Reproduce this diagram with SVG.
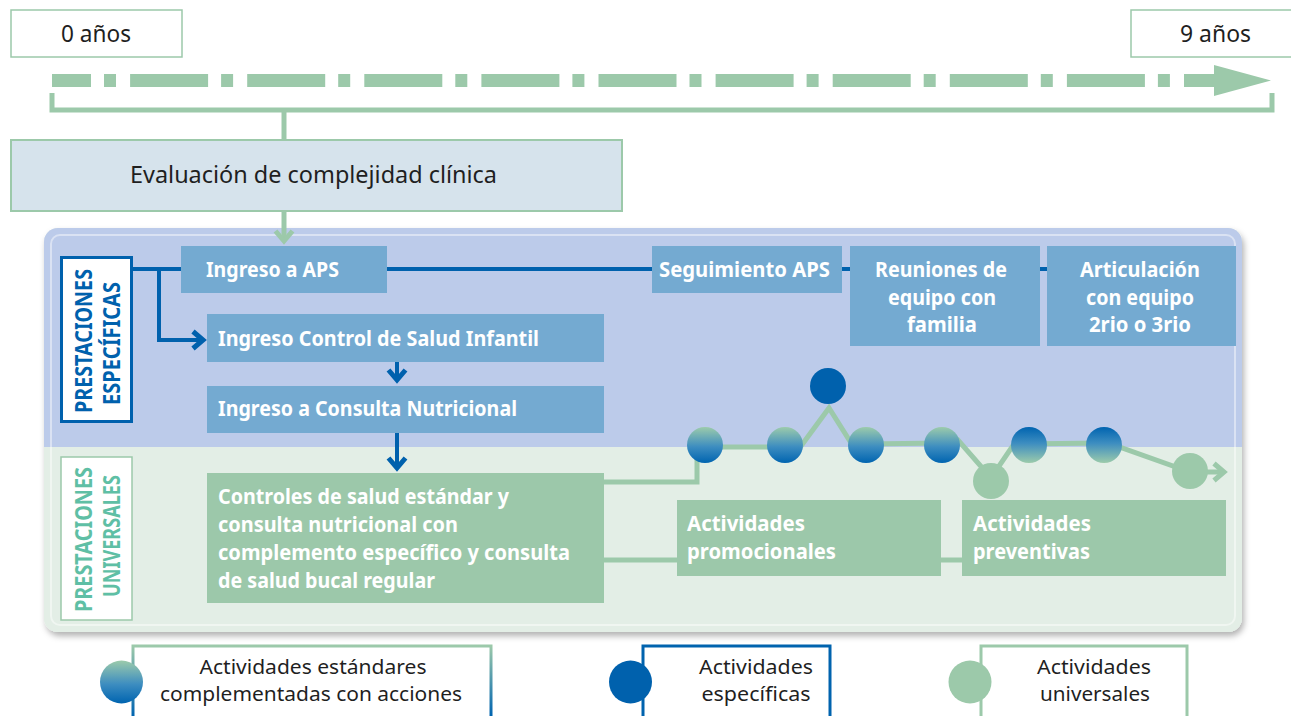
<svg xmlns="http://www.w3.org/2000/svg" width="1291" height="716" viewBox="0 0 1291 716">
<defs>
<style>
.t{font-family:"Noto Sans","Liberation Sans",sans-serif;fill:#1f1f1f;font-size:23px}
.lg{font-family:"Noto Sans","Liberation Sans",sans-serif;fill:#1f1f1f;font-size:19.5px;text-anchor:middle}
.b{font-family:"Noto Sans","Liberation Sans",sans-serif;font-weight:700;fill:#ffffff;font-size:22px}
.bc{font-family:"Noto Sans","Liberation Sans",sans-serif;font-weight:700;fill:#ffffff;font-size:22px;text-anchor:middle}
.v{font-family:"Noto Sans","Liberation Sans",sans-serif;font-weight:700;font-size:24px;text-anchor:middle}
.bluebox{fill:#74aad1}
.greenbox{fill:#9cc8aa}
.bl{stroke:#0061ad;stroke-width:4;fill:none}
.gl{stroke:#9cc9aa;fill:none;stroke-width:5}
</style>
<linearGradient id="gStd" x1="0" y1="0" x2="0" y2="1">
<stop offset="0" stop-color="#9ccbab"/><stop offset="0.55" stop-color="#3d8dc0"/><stop offset="1" stop-color="#0064b0"/>
</linearGradient>
<linearGradient id="gRev" x1="0" y1="0" x2="0" y2="1">
<stop offset="0" stop-color="#0064b0"/><stop offset="0.45" stop-color="#3d8dc0"/><stop offset="1" stop-color="#9ccbab"/>
</linearGradient>
<linearGradient id="gLeg" gradientUnits="userSpaceOnUse" x1="0" y1="646" x2="0" y2="716">
<stop offset="0" stop-color="#9cc9aa"/><stop offset="1" stop-color="#0064b0"/>
</linearGradient>
<marker id="chevB" markerUnits="userSpaceOnUse" markerWidth="24" markerHeight="24" viewBox="0 0 24 24" refX="16" refY="12" orient="auto">
<path d="M6,3.5 L16,12 L6,20.5" fill="none" stroke="#0061ad" stroke-width="5"/>
</marker>
<marker id="chevG" markerUnits="userSpaceOnUse" markerWidth="24" markerHeight="24" viewBox="0 0 24 24" refX="16" refY="12" orient="auto">
<path d="M6,3.5 L16,12 L6,20.5" fill="none" stroke="#9cc9aa" stroke-width="5"/>
</marker>
<filter id="sh" x="-3%" y="-5%" width="106%" height="112%">
<feDropShadow dx="2" dy="4" stdDeviation="3" flood-color="#000" flood-opacity="0.3"/>
</filter>
<clipPath id="pc"><rect x="44" y="228" width="1198" height="404" rx="14"/></clipPath>
</defs>

<rect width="1291" height="716" fill="#ffffff"/>

<g id="timeline">
<g id="start-label">
<rect x="11" y="10" width="171" height="47" fill="#fff" stroke="#9cc9aa" stroke-width="1.5"/>
<text class="t" x="61" y="42" textLength="70" lengthAdjust="spacingAndGlyphs">0 años</text>
</g>
<g id="end-label">
<rect x="1131" y="10" width="170" height="47" fill="#fff" stroke="#9cc9aa" stroke-width="1.5"/>
<text class="t" x="1180" y="42" textLength="71" lengthAdjust="spacingAndGlyphs">9 años</text>
</g>
<line x1="52" y1="80.5" x2="1216" y2="80.5" stroke="#9cc9aa" stroke-width="13" stroke-dasharray="78 13 12 14.1" stroke-dashoffset="39"/>
<polygon points="1214,65 1271,80.5 1214,96" fill="#9cc9aa"/>
</g>

<g id="panel">
<g filter="url(#sh)">
<rect x="44" y="228" width="1198" height="404" rx="14" fill="#e3eee6"/>
</g>
<g clip-path="url(#pc)">
<rect x="44" y="228" width="1198" height="219" fill="#bccbea"/>
<rect x="44" y="447" width="1198" height="185" fill="#e3eee6"/>
</g>
<rect x="51" y="235" width="1184" height="390" rx="9" fill="none" stroke="#ffffff" stroke-opacity="0.45" stroke-width="2"/>
</g>

<g id="connectors">
<path class="gl" d="M52,93 V110 H1272 V93"/>
<path class="gl" d="M284,110 V140"/>
<path class="gl" d="M284,211 V241" marker-end="url(#chevG)"/>
<path class="bl" d="M132,269 H181 M387,269 H652 M842,269 H850 M1040,269 H1047"/>
<path class="bl" d="M159,269 V340 H203" marker-end="url(#chevB)"/>
<path class="bl" d="M397,362 V380" marker-end="url(#chevB)"/>
<path class="bl" d="M397,433 V468" stroke-width="5" marker-end="url(#chevB)"/>
<path class="gl" d="M604,560 H677 M941,560 H962"/>
<path class="gl" stroke-linejoin="miter" d="M604,482 H697 V447 H785 L801,446 L829,408 L853,446 L866,444 L942,443 L958,440 L991,478 L1014,444 L1104,443 L1122,448 L1190,472 H1224" marker-end="url(#chevG)"/>
</g>

<g id="evaluacion">
<rect x="11" y="140" width="611" height="71" fill="#d6e3ec" stroke="#9cc9aa" stroke-width="2"/>
<text class="t" x="130" y="183" textLength="367" lengthAdjust="spacingAndGlyphs">Evaluación de complejidad clínica</text>
</g>

<g id="label-especificas">
<rect x="61.5" y="257.5" width="70" height="164" fill="#fff" stroke="#0061ad" stroke-width="3"/>
<text class="v" fill="#0061ad" transform="translate(92,341) rotate(-90)" textLength="144" lengthAdjust="spacingAndGlyphs">PRESTACIONES</text>
<text class="v" fill="#0061ad" transform="translate(120,343.5) rotate(-90)" textLength="123" lengthAdjust="spacingAndGlyphs">ESPECÍFICAS</text>
</g>

<g id="label-universales">
<rect x="61" y="457" width="71" height="163" fill="#fff" stroke="#9cc9aa" stroke-width="1.5"/>
<text class="v" fill="#5fbfa5" transform="translate(92,539.5) rotate(-90)" textLength="145" lengthAdjust="spacingAndGlyphs">PRESTACIONES</text>
<text class="v" fill="#5fbfa5" transform="translate(120,536) rotate(-90)" textLength="122" lengthAdjust="spacingAndGlyphs">UNIVERSALES</text>
</g>

<g id="ingreso-aps">
<rect class="bluebox" x="181" y="246" width="206" height="47"/>
<text class="b" x="206" y="277" textLength="133" lengthAdjust="spacingAndGlyphs">Ingreso a APS</text>
</g>

<g id="ingreso-control">
<rect class="bluebox" x="207" y="314" width="397" height="48"/>
<text class="b" x="218" y="346" textLength="321" lengthAdjust="spacingAndGlyphs">Ingreso Control de Salud Infantil</text>
</g>

<g id="ingreso-consulta">
<rect class="bluebox" x="207" y="386" width="397" height="47"/>
<text class="b" x="218" y="416" textLength="299" lengthAdjust="spacingAndGlyphs">Ingreso a Consulta Nutricional</text>
</g>

<g id="seguimiento">
<rect class="bluebox" x="652" y="246" width="190" height="47"/>
<text class="b" x="659" y="277" textLength="171" lengthAdjust="spacingAndGlyphs">Seguimiento APS</text>
</g>

<g id="reuniones">
<rect class="bluebox" x="850" y="246" width="190" height="100"/>
<text class="bc" x="941" y="277" textLength="132" lengthAdjust="spacingAndGlyphs">Reuniones de</text>
<text class="bc" x="942" y="304.5" textLength="108" lengthAdjust="spacingAndGlyphs">equipo con</text>
<text class="bc" x="942" y="332" textLength="70" lengthAdjust="spacingAndGlyphs">familia</text>
</g>

<g id="articulacion">
<rect class="bluebox" x="1047" y="246" width="189" height="100"/>
<text class="bc" x="1140" y="277" textLength="120" lengthAdjust="spacingAndGlyphs">Articulación</text>
<text class="bc" x="1140" y="304.5" textLength="108" lengthAdjust="spacingAndGlyphs">con equipo</text>
<text class="bc" x="1140" y="332" textLength="102" lengthAdjust="spacingAndGlyphs">2rio o 3rio</text>
</g>

<g id="controles">
<rect class="greenbox" x="207" y="473" width="397" height="130"/>
<text class="b" font-size="21" x="218" y="504" textLength="291" lengthAdjust="spacingAndGlyphs">Controles de salud estándar y</text>
<text class="b" font-size="21" x="218" y="532" textLength="240" lengthAdjust="spacingAndGlyphs">consulta nutricional con</text>
<text class="b" font-size="21" x="218" y="560" textLength="352" lengthAdjust="spacingAndGlyphs">complemento específico y consulta</text>
<text class="b" font-size="21" x="218" y="588" textLength="217" lengthAdjust="spacingAndGlyphs">de salud bucal regular</text>
</g>

<g id="promocionales">
<rect class="greenbox" x="677" y="500" width="264" height="76"/>
<text class="b" x="687" y="531" textLength="118" lengthAdjust="spacingAndGlyphs">Actividades</text>
<text class="b" x="687" y="559" textLength="149" lengthAdjust="spacingAndGlyphs">promocionales</text>
</g>

<g id="preventivas">
<rect class="greenbox" x="962" y="500" width="264" height="76"/>
<text class="b" x="973" y="531" textLength="118" lengthAdjust="spacingAndGlyphs">Actividades</text>
<text class="b" x="973" y="559" textLength="117" lengthAdjust="spacingAndGlyphs">preventivas</text>
</g>

<g id="activity-dots">
<circle cx="705" cy="445" r="18" fill="url(#gStd)"/>
<circle cx="785" cy="445" r="18" fill="url(#gStd)"/>
<circle cx="828" cy="386" r="18" fill="#0061ad"/>
<circle cx="866" cy="445" r="18" fill="url(#gStd)"/>
<circle cx="942" cy="445" r="18" fill="url(#gStd)"/>
<circle cx="991" cy="481" r="18" fill="#9cc9aa"/>
<circle cx="1029" cy="445" r="18" fill="url(#gRev)"/>
<circle cx="1104" cy="445" r="18" fill="url(#gRev)"/>
<circle cx="1190" cy="471" r="18" fill="#9cc9aa"/>
</g>

<g id="legend-estandar">
<rect x="133" y="646" width="358" height="100" fill="#fff" stroke="url(#gLeg)" stroke-width="3"/>
<circle cx="121.5" cy="682" r="21.5" fill="url(#gStd)"/>
<text class="lg" x="313" y="674" textLength="227" lengthAdjust="spacingAndGlyphs">Actividades estándares</text>
<text class="lg" x="311" y="701" textLength="302" lengthAdjust="spacingAndGlyphs">complementadas con acciones</text>
</g>
<g id="legend-especificas">
<rect x="643" y="646" width="187" height="100" fill="#fff" stroke="#0063ae" stroke-width="3"/>
<circle cx="630.5" cy="682" r="21.5" fill="#0061ad"/>
<text class="lg" x="756" y="674" textLength="114" lengthAdjust="spacingAndGlyphs">Actividades</text>
<text class="lg" x="756" y="701" textLength="109" lengthAdjust="spacingAndGlyphs">específicas</text>
</g>
<g id="legend-universales">
<rect x="981" y="646" width="206" height="100" fill="#fff" stroke="#9cc9aa" stroke-width="3"/>
<circle cx="970" cy="682" r="21.5" fill="#9cc9aa"/>
<text class="lg" x="1094" y="674" textLength="114" lengthAdjust="spacingAndGlyphs">Actividades</text>
<text class="lg" x="1095" y="701" textLength="110" lengthAdjust="spacingAndGlyphs">universales</text>
</g>
</svg>
